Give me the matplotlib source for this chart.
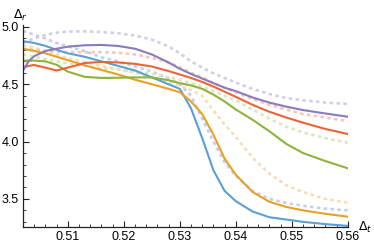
import numpy as np
import matplotlib
matplotlib.use("Agg")
import matplotlib.pyplot as plt
from matplotlib.ticker import MultipleLocator

# -----------------------------
# data
# -----------------------------
delta_t = [0.502, 0.503, 0.504, 0.506, 0.508, 0.510, 0.513, 0.516, 0.519, 0.522,
           0.525, 0.528, 0.530, 0.532, 0.534, 0.536, 0.538, 0.540, 0.543, 0.546,
           0.549, 0.552, 0.556, 0.560]

# solid curves
blue_solid = [4.875, 4.868, 4.86, 4.835, 4.80, 4.77, 4.74, 4.70, 4.66, 4.62,
              4.56, 4.50, 4.46, 4.29, 4.03, 3.75, 3.57, 3.48, 3.39, 3.34,
              3.32, 3.30, 3.28, 3.265]
orange_solid = [4.81, 4.80, 4.79, 4.77, 4.74, 4.71, 4.665, 4.625, 4.585, 4.54,
                4.50, 4.46, 4.43, 4.35, 4.24, 4.06, 3.85, 3.71, 3.56, 3.475,
                3.43, 3.40, 3.37, 3.345]
green_solid = [4.706, 4.706, 4.706, 4.70, 4.67, 4.61, 4.565, 4.555, 4.557, 4.56,
               4.56, 4.535, 4.51, 4.49, 4.46, 4.41, 4.35, 4.28, 4.19, 4.09,
               3.98, 3.90, 3.83, 3.767]
red_solid = [4.645, 4.66, 4.668, 4.645, 4.62, 4.645, 4.685, 4.695, 4.69, 4.678,
             4.655, 4.615, 4.585, 4.555, 4.52, 4.48, 4.435, 4.39, 4.32, 4.26,
             4.21, 4.165, 4.11, 4.066]
purple_solid = [4.62, 4.70, 4.745, 4.79, 4.81, 4.828, 4.84, 4.843, 4.834, 4.81,
                4.76, 4.69, 4.635, 4.59, 4.55, 4.51, 4.47, 4.44, 4.385, 4.34,
                4.305, 4.275, 4.245, 4.217]

# dashed curves
blue_dashed = [4.965, 4.95, 4.93, 4.90, 4.86, 4.83, 4.79, 4.735, 4.70, 4.655,
               4.61, 4.55, 4.50, 4.40, 4.20, 4.00, 3.82, 3.70, 3.57, 3.50,
               3.465, 3.44, 3.415, 3.40]
orange_dashed = [4.84, 4.83, 4.82, 4.79, 4.76, 4.73, 4.69, 4.66, 4.63, 4.60,
                 4.56, 4.52, 4.49, 4.45, 4.40, 4.27, 4.15, 4.04, 3.86, 3.72,
                 3.62, 3.56, 3.50, 3.467]
green_dashed = [4.76, 4.75, 4.74, 4.72, 4.70, 4.68, 4.66, 4.64, 4.63, 4.61,
                4.59, 4.56, 4.54, 4.51, 4.48, 4.44, 4.40, 4.36, 4.28, 4.20,
                4.13, 4.08, 4.03, 3.99]
red_dashed = [4.81, 4.805, 4.80, 4.79, 4.785, 4.78, 4.78, 4.78, 4.775, 4.76,
              4.73, 4.69, 4.65, 4.60, 4.56, 4.51, 4.47, 4.43, 4.37, 4.32,
              4.28, 4.24, 4.21, 4.18]
purple_dashed = [4.86, 4.88, 4.90, 4.93, 4.95, 4.96, 4.962, 4.955, 4.945, 4.925,
                 4.89, 4.83, 4.77, 4.70, 4.645, 4.595, 4.555, 4.515, 4.46, 4.415,
                 4.38, 4.36, 4.34, 4.328]

# -----------------------------
# plot
# -----------------------------
plt.rcParams['font.family'] = ['Liberation Sans', 'DejaVu Sans']

fig = plt.figure(figsize=(3.74, 2.52), dpi=100)
ax = fig.add_axes([0.0615, 0.0992, 0.8685, 0.803])

dashed = [(blue_dashed, '#c6cdec'), (orange_dashed, '#f8dcb2'),
          (green_dashed, '#d9e6c0'), (red_dashed, '#f7c5b5'),
          (purple_dashed, '#d2cde9')]
for ys, c in dashed:
    ax.plot(delta_t, ys, color=c, lw=1.9, ls=(0, (1.3, 1.3)))

solid = [(blue_solid, '#5b9fd5'), (orange_solid, '#e8a027'),
         (green_solid, '#8db43a'), (red_solid, '#ec6436'),
         (purple_solid, '#8a7bbd')]
for ys, c in solid:
    ax.plot(delta_t, ys, color=c, lw=1.5)

ax.set_xlim(0.502, 0.56)
ax.set_ylim(3.255, 5.02)

for s in ['top', 'right']:
    ax.spines[s].set_visible(False)
for s in ['left', 'bottom']:
    ax.spines[s].set_linewidth(0.9)
    ax.spines[s].set_color('#222222')

ax.xaxis.set_major_locator(MultipleLocator(0.01))
ax.xaxis.set_minor_locator(MultipleLocator(0.002))
ax.yaxis.set_major_locator(MultipleLocator(0.5))
ax.yaxis.set_minor_locator(MultipleLocator(0.1))
ax.xaxis.set_major_formatter(plt.FuncFormatter(lambda v, p: f"{v:.2f}"))
ax.yaxis.set_major_formatter(plt.FuncFormatter(lambda v, p: f"{v:.1f}"))
ax.tick_params(which='major', direction='in', length=4, width=0.8,
               labelsize=9, pad=3, color='#222222')
ax.tick_params(which='minor', direction='in', length=2.2, width=0.6,
               color='#222222')

fig.text(0.035, 0.925, r'$\Delta_{r}$', fontsize=9)
fig.text(0.957, 0.082, r'$\Delta_{t}$', fontsize=9)

fig.savefig('out.png', dpi=100)
